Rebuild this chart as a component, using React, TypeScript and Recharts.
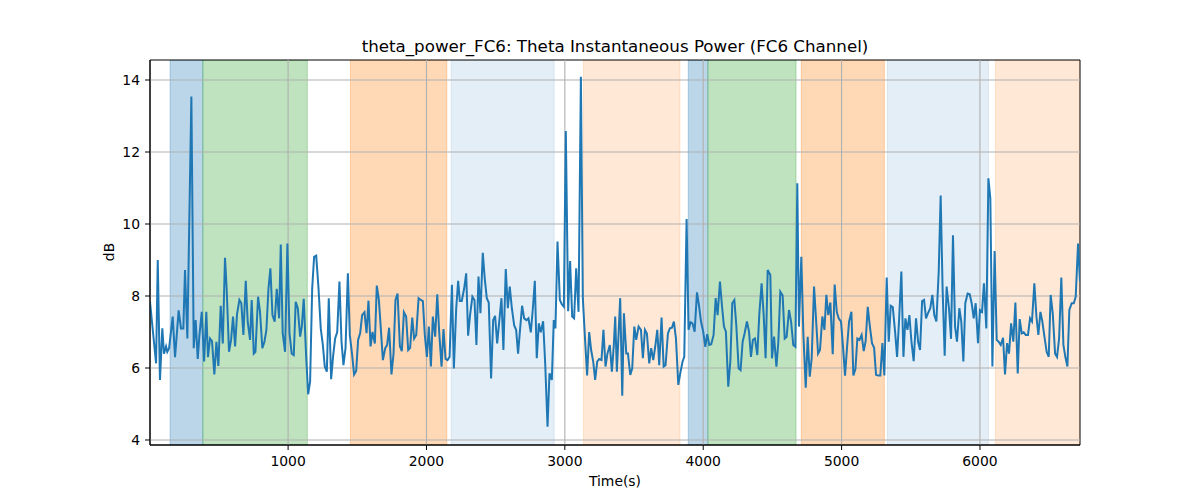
import { LineChart, Line, XAxis, YAxis, ReferenceArea, ReferenceLine } from "recharts";

// sample times (s)
const times = [
  2, 46, 58, 74, 91, 103, 118, 127, 140, 166, 183, 209, 226, 243, 255, 272, 301, 318, 332, 347,
  359, 376, 393, 409, 421, 436, 450, 467, 482, 496, 513, 528, 544, 556, 573, 588, 602, 617, 631, 648,
  662, 677, 694, 708, 725, 737, 752, 764, 783, 797, 814, 829, 843, 858, 872, 887, 903, 918, 935, 947,
  961, 978, 995, 1010, 1026, 1041, 1055, 1070, 1087, 1099, 1113,
  1130, 1145, 1159, 1174, 1188, 1203, 1220, 1236, 1251, 1265, 1280, 1294, 1311, 1326, 1340,
  1355, 1371, 1386, 1400, 1415, 1432, 1446, 1463, 1477, 1492, 1506, 1521, 1535, 1552, 1567,
  1581, 1596, 1610, 1627, 1641, 1656, 1670, 1685, 1702, 1716, 1730, 1747, 1762, 1776, 1791,
  1808, 1822, 1837, 1853, 1868, 1882, 1897, 1911, 1926, 1943, 1959, 1974, 1988, 2003, 2017,
  2032, 2046, 2063, 2078, 2092, 2109, 2123, 2138, 2152, 2167, 2184, 2198, 2215, 2229,
  2241, 2255, 2272, 2287, 2301, 2315, 2332, 2347, 2361, 2376, 2390, 2407, 2421, 2436, 2450,
  2467, 2482, 2496, 2511, 2528, 2542, 2556, 2573, 2588, 2602, 2617, 2634, 2648, 2662, 2677,
  2691, 2706, 2723, 2737, 2754, 2769, 2783, 2797, 2812, 2826, 2843, 2858, 2875, 2889, 2906,
  2920, 2932, 2947, 2964, 2978, 2993, 3007, 3024, 3038, 3053, 3067, 3082, 3099, 3116, 3130,
  3147, 3161, 3176, 3190, 3205, 3219, 3234, 3248, 3265, 3279, 3294, 3308, 3325, 3340, 3354, 3364,
  3376, 3400, 3415, 3427, 3444, 3456, 3473, 3487, 3502, 3516, 3533, 3550, 3564, 3579, 3593,
  3610, 3624, 3639, 3653, 3668, 3682, 3699, 3714, 3728, 3745, 3759, 3774, 3788, 3803, 3820,
  3834, 3851, 3863, 3880, 3894, 3909, 3923, 3938, 3955, 3969, 3984, 4000, 4015, 4029, 4044,
  4058, 4075, 4090, 4104, 4121, 4135, 4150, 4164, 4181, 4196, 4210, 4225, 4239, 4256, 4270,
  4285, 4299, 4316, 4331, 4345, 4359, 4374, 4391, 4405, 4422, 4437, 4451, 4466, 4485,
  4497, 4512, 4529, 4543, 4557, 4574, 4589, 4603, 4620, 4635, 4651, 4666, 4680, 4692, 4709,
  4724, 4741, 4755, 4770, 4784, 4801, 4815, 4830, 4844, 4861, 4876, 4890, 4904, 4919, 4936,
  4950, 4965, 4979, 4996, 5011, 5025, 5039, 5054, 5071, 5085, 5100, 5114, 5129, 5145, 5160,
  5174, 5189, 5206, 5220, 5235, 5249, 5264, 5280, 5295, 5309, 5326, 5341, 5355, 5370, 5387,
  5401, 5415, 5432, 5447, 5461, 5476, 5490, 5505, 5521, 5538, 5553, 5567, 5582, 5596,
  5610, 5624, 5641, 5656, 5670, 5685, 5702, 5716, 5730, 5745, 5759, 5776, 5791, 5805, 5820,
  5834, 5851, 5865, 5880, 5894, 5911, 5926, 5940, 5955, 5969, 5986, 6000, 6015, 6029, 6046,
  6061, 6075, 6090, 6106, 6121, 6135, 6150, 6167, 6181, 6196, 6210, 6225, 6241, 6256, 6273,
  6287, 6302, 6316, 6331, 6347, 6362, 6376, 6393, 6408, 6422, 6437, 6451, 6466, 6482, 6497,
  6511, 6526, 6543, 6557, 6572, 6588, 6603, 6617, 6632, 6646, 6663, 6678, 6692, 6709, 6723,
];

// theta power (dB) at each time
const power = [
  7.84, 6.13, 9.0, 5.67, 7.1, 6.4, 6.6, 6.45, 6.55, 7.43, 6.3, 7.6, 7.1, 7.1, 8.72, 6.82, 13.54, 6.55, 7.33, 6.25,
  6.9, 7.56, 6.18, 7.56, 6.3, 6.82, 6.75, 5.82, 6.73, 6.06, 7.73, 6.68, 9.06, 8.2, 6.45, 6.78, 7.43, 6.6, 7.5, 7.89,
  7.8, 6.92, 8.42, 7.29, 6.78, 7.89, 6.4, 6.45, 7.98, 7.56, 6.55, 6.73, 7.05, 8.2, 8.77, 7.47, 7.29, 8.2, 7.38, 9.43,
  6.97, 6.45, 9.46, 6.97, 6.4, 6.36, 7.84, 7.66, 6.87, 7.15, 7.92,
  6.36, 5.27, 5.62, 8.2, 9.09, 9.12, 8.2, 7.1, 6.64, 6.04, 5.9, 7.94, 5.69, 6.36, 6.82,
  7.0, 8.4, 6.73, 6.08, 6.55, 8.63, 6.92, 6.36, 5.82, 5.92, 6.78, 6.97, 7.47, 7.55, 6.97,
  7.87, 6.6, 7.0, 6.68, 8.29, 7.89, 7.1, 6.22, 6.55, 6.64, 7.12, 5.82, 6.4, 7.89, 8.07,
  6.6, 6.47, 7.55, 7.43, 6.5, 6.56, 7.4, 6.82, 6.92, 7.94, 7.89, 7.86, 6.92, 6.31, 7.15,
  6.04, 7.43, 6.87, 8.05, 6.99, 6.04, 7.08, 6.25, 6.22, 6.31, 8.31, 5.99, 7.66, 8.42,
  7.86, 7.86, 8.2, 8.63, 6.9, 7.47, 7.98, 7.89, 6.64, 8.54, 7.52, 9.2, 8.49, 7.94, 7.82,
  5.71, 7.33, 7.45, 6.68, 7.38, 7.94, 6.5, 8.75, 7.66, 8.26, 7.66, 7.18, 7.06, 6.4, 7.1,
  7.73, 7.38, 7.33, 7.38, 6.99, 7.66, 8.42, 6.27, 7.24, 6.99, 7.3, 6.13, 4.37, 5.85, 5.67,
  7.33, 7.1, 9.51, 7.89, 7.77, 7.7, 12.58, 7.58, 8.97, 7.43, 7.38, 8.77, 7.56, 14.09, 7.94,
  6.73, 5.79, 7.0, 6.5, 6.18, 5.67, 6.18, 6.25, 6.22, 7.06, 6.04, 6.4, 6.64, 5.9, 6.64, 7.43,
  5.9, 7.94, 5.23, 7.52, 6.4, 6.4, 5.81, 5.99, 7.15, 6.78, 7.15, 7.06, 6.27, 7.06, 6.96,
  6.13, 6.55, 6.22, 6.59, 7.06, 6.08, 7.4, 6.04, 6.08, 6.96, 7.1, 7.12, 7.29, 6.82, 5.53,
  5.85, 6.18, 6.31, 10.14, 7.06, 7.27, 7.24, 7.01, 8.1, 7.75, 7.29, 7.01, 6.59, 6.94, 6.64,
  6.66, 6.92, 7.94, 7.47, 8.4, 7.75, 7.15, 7.01, 5.48, 6.18, 7.8, 7.89, 7.19, 5.99, 5.94,
  6.73, 6.96, 7.29, 7.01, 6.31, 6.78, 6.82, 6.36, 7.47, 8.35, 7.47, 6.27, 8.72, 8.58,
  6.27, 6.87, 6.04, 6.73, 8.12, 8.01, 6.82, 6.87, 7.61, 7.29, 6.64, 6.59, 11.13, 7.15, 9.09,
  6.92, 5.45, 6.87, 5.76, 6.27, 8.26, 7.38, 6.4, 6.5, 7.43, 7.06, 8.03, 7.47, 7.82, 6.38,
  8.32, 7.56, 7.38, 7.29, 6.55, 5.79, 6.55, 7.29, 7.56, 5.79, 5.97, 6.82, 6.78, 6.92, 6.47,
  6.75, 7.7, 7.1, 6.69, 6.56, 5.81, 5.79, 5.79, 6.69, 5.79, 8.51, 6.73, 7.73, 7.69, 6.99,
  6.31, 7.29, 8.68, 6.31, 7.38, 7.06, 7.47, 6.73, 6.19, 7.38, 6.73, 6.5, 7.86, 7.89,
  7.38, 7.52, 7.66, 8.03, 7.47, 7.29, 8.68, 10.79, 8.21, 6.34, 8.26, 7.66, 6.81, 9.69, 7.15,
  6.73, 7.66, 7.29, 6.18, 7.8, 8.07, 8.05, 7.8, 7.38, 7.8, 6.69, 7.61, 7.56, 8.35, 7.1,
  11.27, 10.71, 6.04, 9.25, 6.78, 6.73, 6.64, 6.84, 5.82, 6.69, 6.4, 7.24, 6.73, 7.82, 5.85,
  7.36, 6.96, 6.99, 6.92, 6.92, 7.38, 7.29, 8.35, 7.43, 6.92, 7.56, 7.29, 6.87, 6.45, 6.31,
  8.03, 7.52, 6.4, 6.31, 6.82, 8.51, 6.64, 6.31, 6.04, 7.61, 7.8, 7.8, 7.98, 9.46, 8.4,
];

// shaded segments
const spanStart = [147, 384, 1450, 2179, 3135, 3892, 4034, 4709, 5331, 6112];
const spanEnd = [384, 1139, 2147, 2923, 3832, 4034, 4671, 5309, 6061, 6723];
const spanColor = ["#1f77b4", "#2ca02c", "#ff7f0e", "#1f77b4", "#ff7f0e", "#1f77b4", "#2ca02c", "#ff7f0e", "#1f77b4", "#ff7f0e"];
const spanAlpha = [0.3, 0.3, 0.3, 0.12, 0.17, 0.3, 0.3, 0.3, 0.12, 0.17];

const xTicks = [1000, 2000, 3000, 4000, 5000, 6000];
const yTicks = [4, 6, 8, 10, 12, 14];

const X_MIN = 2;
const X_MAX = 6723;
const Y_MIN = 3.861;
const Y_MAX = 14.556;

const font = "DejaVu Sans, sans-serif";

const App = () => {
  const data = times.map((t, i) => ({ t, v: power[i] }));

  return (
    <div style={{ position: "absolute", left: 0, top: 0, width: 1200, height: 500, background: "#fff", fontFamily: font }}>
      <div style={{ position: "absolute", left: 150, top: 36, width: 930, textAlign: "center", fontSize: 16.7, lineHeight: "20px" }}>
        theta_power_FC6: Theta Instantaneous Power (FC6 Channel)
      </div>
      <div style={{ position: "absolute", left: 150, top: 471, width: 930, textAlign: "center", fontSize: 13.9, lineHeight: "20px" }}>
        Time(s)
      </div>
      <div
        style={{
          position: "absolute", left: 109, top: 252, fontSize: 13.9, lineHeight: "20px",
          transform: "translate(-50%, -50%) rotate(-90deg)", whiteSpace: "nowrap",
        }}
      >
        dB
      </div>
      <LineChart width={1200} height={500} data={data} margin={{ top: 60, right: 120, left: 100, bottom: 25 }}>
        <XAxis
          dataKey="t"
          type="number"
          domain={[X_MIN, X_MAX]}
          ticks={xTicks}
          allowDataOverflow
          height={30}
          tickSize={5}
          tickMargin={6}
          stroke="#000"
          tick={{ fill: "#000", fontSize: 13.9, fontFamily: font }}
        />
        <YAxis
          type="number"
          domain={[Y_MIN, Y_MAX]}
          ticks={yTicks}
          allowDataOverflow
          width={50}
          tickSize={5}
          tickMargin={5}
          stroke="#000"
          tick={{ fill: "#000", fontSize: 13.9, fontFamily: font }}
        />
        {spanStart.map((s, i) => (
          <ReferenceArea
            key={"span" + i}
            x1={s}
            x2={spanEnd[i]}
            y1={Y_MIN}
            y2={Y_MAX}
            fill={spanColor[i]}
            fillOpacity={spanAlpha[i]}
            stroke={spanColor[i]}
            strokeOpacity={spanAlpha[i]}
            ifOverflow="hidden"
          />
        ))}
        {xTicks.map((x) => (
          <ReferenceLine key={"gx" + x} x={x} stroke="#b0b0b0" strokeWidth={1.1} />
        ))}
        {yTicks.map((y) => (
          <ReferenceLine key={"gy" + y} y={y} stroke="#b0b0b0" strokeWidth={1.1} />
        ))}
        <ReferenceArea x1={X_MIN} x2={X_MAX} y1={Y_MIN} y2={Y_MAX} fill="none" stroke="#000" strokeWidth={1} />
        <Line type="linear" dataKey="v" stroke="#1f77b4" strokeWidth={2} dot={false} isAnimationActive={false} />
      </LineChart>
    </div>
  );
};

export default App;
